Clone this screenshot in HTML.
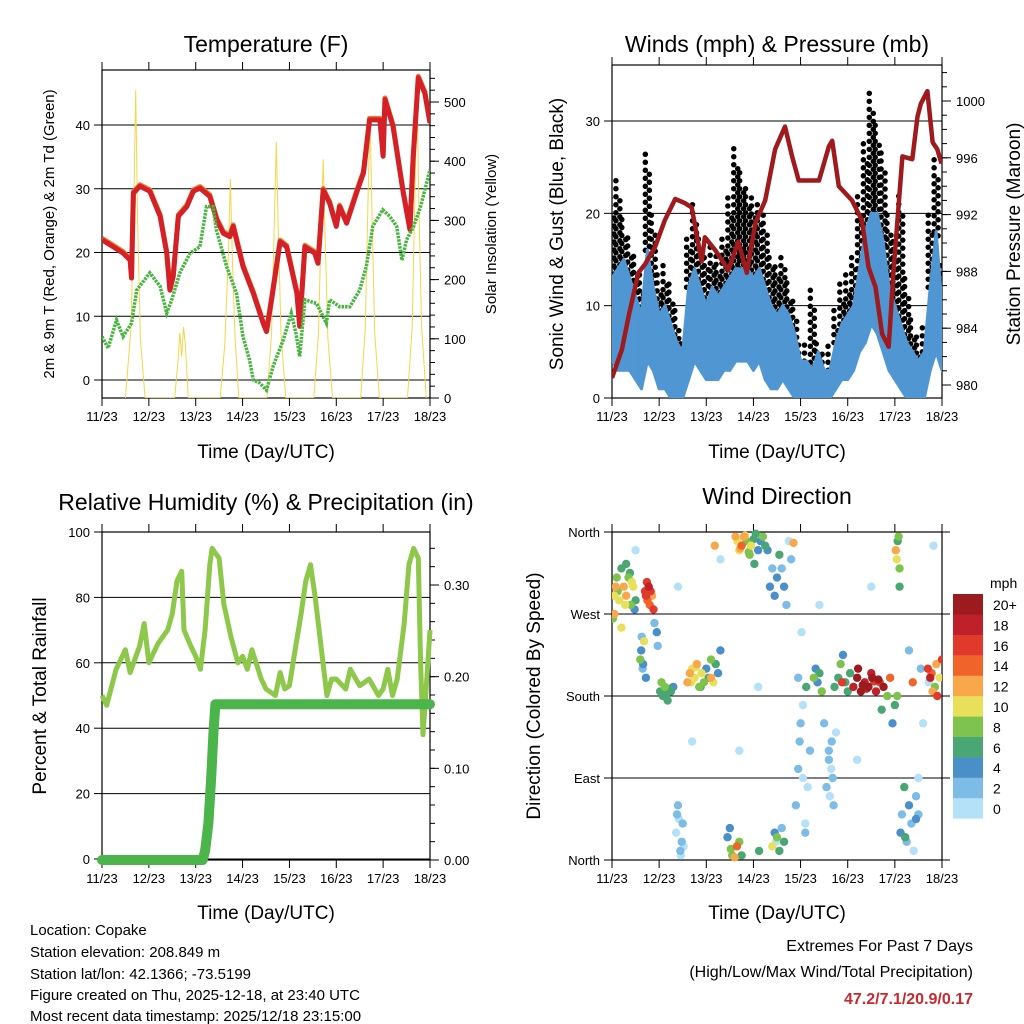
<!DOCTYPE html>
<html><head><meta charset="utf-8">
<style>
html,body{margin:0;padding:0;background:#fff;}
svg{display:block;font-family:"Liberation Sans",Arial,sans-serif;}
</style></head>
<body>
<svg id="c" width="1024" height="1024" viewBox="0 0 1024 1024" xmlns="http://www.w3.org/2000/svg">
<g id="texts">
<text x="266" y="52" font-size="23" text-anchor="middle">Temperature (F)</text>
<text x="777" y="52" font-size="23" text-anchor="middle">Winds (mph) &amp; Pressure (mb)</text>
<text x="266" y="510" font-size="23" text-anchor="middle">Relative Humidity (%) &amp; Precipitation (in)</text>
<text x="777" y="504" font-size="23" text-anchor="middle">Wind Direction</text>
<text x="266" y="458" font-size="19" text-anchor="middle">Time (Day/UTC)</text>
<text x="777" y="458" font-size="19" text-anchor="middle">Time (Day/UTC)</text>
<text x="266" y="919" font-size="19" text-anchor="middle">Time (Day/UTC)</text>
<text x="777" y="919" font-size="19" text-anchor="middle">Time (Day/UTC)</text>
<text transform="translate(54,234) rotate(-90)" font-size="15" text-anchor="middle">2m &amp; 9m T (Red, Orange) &amp; 2m Td (Green)</text>
<text transform="translate(496,234) rotate(-90)" font-size="15" text-anchor="middle">Solar Insolation (Yellow)</text>
<text transform="translate(563,234) rotate(-90)" font-size="19" text-anchor="middle">Sonic Wind &amp; Gust (Blue, Black)</text>
<text transform="translate(1020,234) rotate(-90)" font-size="19" text-anchor="middle">Station Pressure (Maroon)</text>
<text transform="translate(46,696) rotate(-90)" font-size="19" text-anchor="middle">Percent &amp; Total Rainfall</text>
<text transform="translate(540,696) rotate(-90)" font-size="19" text-anchor="middle">Direction (Colored By Speed)</text>
<g font-size="15">
<text x="30" y="935">Location: Copake</text>
<text x="30" y="957">Station elevation: 208.849 m</text>
<text x="30" y="979">Station lat/lon: 42.1366; -73.5199</text>
<text x="30" y="1000">Figure created on Thu, 2025-12-18, at 23:40 UTC</text>
<text x="30" y="1021">Most recent data timestamp: 2025/12/18 23:15:00</text>
</g>
<g font-size="16" text-anchor="end">
<text x="973" y="951">Extremes For Past 7 Days</text>
<text x="973" y="977">(High/Low/Max Wind/Total Precipitation)</text>
<text x="973" y="1004" font-weight="bold" fill="#c8282e">47.2/7.1/20.9/0.17</text>
</g>
</g>
</svg>
<script>
// ---------- DATA ----------
const dayLabels = ["11/23","12/23","13/23","14/23","15/23","16/23","17/23","18/23"];
const tempDays = [0,0.24,0.45,0.6,0.63,0.67,0.81,1.02,1.24,1.38,1.45,1.52,1.63,1.81,1.95,2.09,2.3,2.45,2.59,2.73,2.8,2.87,3.01,3.23,3.44,3.51,3.62,3.8,3.94,4.16,4.22,4.33,4.54,4.61,4.72,4.86,5.0,5.07,5.22,5.43,5.58,5.71,5.93,6.0,6.04,6.21,6.43,6.57,6.64,6.75,6.89,7.0];
const tempRed  = [22.0,20.9,19.9,18.8,16,29.3,30.4,29.6,25.7,19.9,14.1,16.2,25.7,27.2,29.6,30.1,28.8,25.1,23.0,22.5,24.1,22,17.8,13.6,8.9,7.6,12.6,21.7,20.9,13.6,8.4,20.9,19.9,18.3,29.8,27.7,24.1,27.2,24.6,29.3,32.5,40.8,40.8,35.1,44,39.8,29.3,23.6,34.6,47.4,45,40.3];
const dewDays = [0,0.13,0.31,0.45,0.63,0.74,1.02,1.24,1.38,1.49,1.66,1.88,2.09,2.23,2.37,2.44,2.66,2.87,3.01,3.15,3.23,3.37,3.51,3.65,3.87,4.04,4.14,4.22,4.33,4.58,4.79,4.86,5.07,5.29,5.50,5.64,5.78,5.99,6.14,6.29,6.4,6.5,6.65,6.8,7.0];
const dewGreen = [6.8,5,9.4,6.8,8.9,14.1,16.8,14.7,10.5,12.6,16.8,19.9,20.9,27.2,27.2,23.6,17.8,13.6,6.8,3.1,0,-0.5,-1.6,2.1,6.3,10.5,7.3,3.7,12.6,12.0,8.9,12.6,11.5,11.5,14.1,17.8,24.1,26.7,25.7,24.1,18.8,22,24.1,27.2,33.0];
const solarDays = [0.5,0.62,0.68,0.72,0.76,0.82,0.92, 1.55,1.62,1.66,1.7,1.74,1.78,1.84, 2.52,2.62,2.7,2.74,2.78,2.84,2.92, 3.52,3.62,3.68,3.72,3.76,3.82,3.92, 4.52,4.62,4.68,4.72,4.76,4.82,4.92, 5.52,5.62,5.68,5.72,5.76,5.82,5.92, 6.52,6.62,6.68,6.72,6.76,6.82,6.92];
const solarVals = [0,120,330,520,300,100,0, 0,60,110,70,120,90,0, 0,90,250,370,240,100,0, 0,110,300,433,290,110,0, 0,110,300,403,280,100,0, 0,120,340,475,320,110,0, 0,120,350,540,330,120,0];
const windDays = Array.from({length:57},(_,i)=>i*0.125);
const windHi = [13,14,15,13,11,9,16,12,9,10,8,6,5,12,14,12,10,12,11,12,13,14,14,14,13,14,12,10,9,10,9,7,4,4,3,5,3,3,6,8,9,10,14,18,20,20,17,12,10,8,6,5,4,5,12,18,10];
const windLo = [4,3,3,3,2,1,4,3,1,1,0,0,0,2,4,3,2,2,2,3,3,4,4,4,3,4,2,1,1,2,1,0,0,0,0,0,0,0,1,2,2,3,5,6,8,7,5,3,2,1,0,0,0,0,3,5,3];
const gustHi = [22,24,20,18,16,14,27,20,14,15,13,10,6,18,21,18,16,17,16,18,22,27,25,23,22,21,20,16,15,16,13,11,6,6,12,6,5,6,10,13,14,16,22,28,33,30,27,20,17,22,13,9,7,8,20,26,15];
const presDays = [0,0.21,0.35,0.56,0.7,0.91,1.12,1.34,1.55,1.69,1.9,1.97,2.19,2.47,2.68,2.86,3.04,3.25,3.46,3.67,3.82,3.96,4.18,4.39,4.6,4.67,4.81,5.09,5.3,5.44,5.59,5.73,5.87,5.97,6.16,6.37,6.48,6.55,6.69,6.8,6.9,6.99];
const presVals = [980.5,982.5,984.8,987.9,988.5,989.7,991.6,993.1,992.8,992.5,988.7,990.4,989.5,988.1,990.1,987.9,991.4,993.0,996.6,998.2,996.1,994.4,994.4,994.4,996.8,997.2,994.0,993.0,991.6,988.3,986.9,983.6,982.7,987.9,996.1,995.9,998.9,999.8,1000.7,997.1,996.6,995.6];
const rhDays = [0,0.1,0.3,0.5,0.6,0.8,0.9,1.0,1.2,1.4,1.5,1.6,1.7,1.75,1.9,2.0,2.1,2.2,2.3,2.35,2.5,2.6,2.75,2.9,3.0,3.1,3.2,3.4,3.5,3.7,3.8,3.9,4.0,4.1,4.25,4.35,4.45,4.55,4.7,4.8,4.9,5.0,5.2,5.3,5.5,5.7,5.9,6.0,6.1,6.2,6.3,6.45,6.55,6.65,6.75,6.8,6.85,6.9,7.0];
const rhVals = [50,47,58,64,57,65,72,60,66,70,75,85,88,70,65,62,58,70,90,95,92,78,68,60,62,58,64,55,52,50,57,52,53,62,75,85,90,80,62,50,55,55,52,58,53,55,50,52,58,50,55,72,90,95,92,60,38,48,70];
const precipDays = [0,2.15,2.2,2.27,2.33,2.38,2.42,7.0];
const precipVals = [0,0,0.01,0.04,0.09,0.14,0.17,0.17];
const dirDays = [0.02,0.05,0.08,0.1,0.15,0.2,0.25,0.3,0.35,0.4,0.45,0.5,0.3,0.42,0.48,0.2,0.12,0.38,0.05,0.28,
 0.7,0.72,0.75,0.78,0.8,0.85,0.88,0.74,0.82,0.62,0.65,0.68,0.72,0.95,0.97,0.6,0.63,0.66,0.9,
 1.02,1.08,1.12,1.18,1.25,1.3,1.05,1.15,1.22,1.36,1.4,1.45,1.5,1.42,1.48,1.52,1.38,1.46,
 1.6,1.65,1.7,1.75,1.8,1.85,1.9,1.95,2.0,2.05,2.1,2.15,2.2,2.25,2.3,2.1,1.68,1.78,1.88,2.18,
 2.62,2.66,2.7,2.75,2.8,2.85,2.9,2.95,3.0,3.05,3.1,3.15,3.2,3.25,3.3,3.35,3.4,3.45,3.5,3.55,3.6,3.65,3.7,3.75,3.8,3.85,2.72,2.82,2.92,3.02,3.12,
 2.45,2.5,2.55,2.6,2.65,2.7,2.75,3.4,3.45,3.5,3.55,3.6,3.65,2.52,3.48,
 3.9,3.95,4.0,4.05,4.1,4.15,4.2,3.95,4.02,4.1,3.98,4.05,4.12,
 4.28,4.32,4.36,4.4,4.45,4.5,4.55,4.6,4.65,4.7,4.75,4.6,4.68,4.62,4.66,4.72,
 4.8,4.85,4.9,4.95,5.0,5.05,4.88,
 5.12,5.2,5.28,5.36,5.44,5.52,5.6,5.68,5.76,5.84,5.9,5.22,5.5,5.65,5.32,5.4,5.56,5.72,
 5.95,6.0,6.05,6.1,6.02,6.06,6.1,6.04,6.08,6.12,
 6.15,6.2,6.25,6.3,6.35,6.4,6.45,6.5,6.55,6.3,6.45,6.22,6.38,
 6.7,6.75,6.8,6.85,6.9,6.95,7.0,6.78,6.88,6.72,6.82,
 0.5,1.4,2.3,3.1,4.4,5.5,6.6,1.7,2.7,5.2,6.5,6.7];
const dirVals = [265,290,300,310,285,320,300,290,310,280,300,285,325,305,275,255,295,315,270,280,
 295,290,285,300,280,290,275,305,295,230,210,240,200,250,235,220,245,215,260,
 185,180,190,175,185,190,195,182,188,30,60,10,40,45,20,15,50,5,
 195,205,210,200,215,190,205,195,210,200,220,195,215,205,230,200,195,212,190,
 345,355,350,340,345,355,350,338,345,352,358,340,350,355,345,340,300,320,290,310,335,320,300,280,350,330,348,342,356,335,325,
 10,25,35,5,3,15,20,5,15,30,25,10,35,20,12,
 20,60,100,150,170,30,80,120,200,250,40,130,90,
 190,200,210,195,205,185,150,80,120,100,60,140,110,90,70,130,
 190,200,215,225,195,185,205,
 195,190,200,185,195,190,200,185,195,190,180,200,210,205,198,192,188,196,
 165,150,170,180,320,340,350,300,330,355,
 30,50,80,20,60,40,10,70,50,210,230,45,25,
 195,210,200,185,190,180,200,220,205,215,195,
 345,340,300,330,190,280,300,150,130,120,110,90];
const dirSpeed = [9,11,12,8,10,7,13,12,9,8,10,6,7,11,5,10,9,6,12,10,
 16,17,14,18,15,13,17,16,17,4,3,10,5,4,3,9,2,4,3,
 7,6,8,7,6,4,8,7,6,1,2,3,2,1,2,1,2,1,
 12,13,11,10,12,9,10,8,4,6,9,11,7,5,4,12,11,10,7,
 12,13,11,10,14,12,9,8,11,7,6,5,4,8,6,5,4,3,5,4,6,2,4,3,1,2,12,13,10,9,7,
 6,4,5,8,12,15,9,7,10,5,8,6,3,7,9,
 1,2,2,3,1,2,1,2,3,1,1,2,1,
 7,8,5,4,6,8,3,2,2,1,2,1,2,2,1,2,
 6,7,8,5,7,6,7,
 16,19,21,20,18,22,20,19,17,21,8,15,20,18,20,21,19,17,
 6,4,7,8,9,12,7,6,10,8,
 5,3,6,2,4,3,1,2,3,2,3,4,6,
 15,17,18,13,9,16,10,16,14,12,
 1,1,1,1,1,1,1,1,1,1,1,1,1];
const speedColors = ["#b4e1f7","#7cbce6","#4a8fc7","#4aa672","#7dc34e","#e8e05a","#f8a84a","#f0642a","#e03a2c","#c0202a","#9b1b1e"];
const speedLabels = ["0","2","4","6","8","10","12","14","16","18","20+"];

// ---------- DRAWING ----------
const NS="http://www.w3.org/2000/svg";
const svg=document.getElementById('c');
function el(tag,attrs,parent){const e=document.createElementNS(NS,tag);for(const k in attrs)e.setAttribute(k,attrs[k]);(parent||svg).appendChild(e);return e;}
function lin(d0,d1,r0,r1){return v=>r0+(v-d0)*(r1-r0)/(d1-d0);}

function frame(name,x0,x1,y0,y1,xs){
  const g=el('g',{});
  
  
  el('rect',{x:x0,y:y0,width:x1-x0,height:y1-y0,fill:'none',stroke:'#000','stroke-width':1.2},g);
  dayLabels.forEach((lb,i)=>{
    const x=xs(i);
    el('line',{x1:x,x2:x,y1:y1,y2:y1+8,stroke:'#000'},g);
    el('line',{x1:x,x2:x,y1:y0,y2:y0-8,stroke:'#000'},g);
    const t=el('text',{x:x,y:y1+23,'font-size':13,'text-anchor':'middle'},g);
    t.textContent=lb;
    
    
  });
  return g;
}
function leftAxis(g,ticks,ys,x0,x1,labels,grid){
  ticks.forEach((v,i)=>{
    const y=ys(v);
    el('line',{x1:x0-8,x2:x0,y1:y,y2:y,stroke:'#000'},g);
    if(grid) el('line',{x1:x0,x2:x1,y1:y,y2:y,stroke:'#000','stroke-width':1},g);
    const t=el('text',{x:x0-12,y:y+5,'font-size':13,'text-anchor':'end'},g);
    t.textContent=labels?labels[i]:v;
  });
}
function rightAxis(g,ticks,ys,x1,labels,minor){
  minor.forEach(v=>{const y=ys(v);el('line',{x1:x1,x2:x1+5,y1:y,y2:y,stroke:'#000'},g);});
  ticks.forEach((v,i)=>{
    const y=ys(v);
    el('line',{x1:x1,x2:x1+9,y1:y,y2:y,stroke:'#000'},g);
    const t=el('text',{x:x1+14,y:y+5,'font-size':13},g);
    t.textContent=labels?labels[i]:v;
  });
}
function pathOf(xa,ya,xs,ys){return xa.map((d,i)=>(i?'L':'M')+xs(d).toFixed(1)+','+ys(ya[i]).toFixed(1)).join('');}

// Panel 1 temperature
(function(){
  const x0=102,x1=430,y0=70,y1=398;
  const xs=lin(0,7,x0,x1), ys=lin(0,40,380,125), ss=lin(0,500,398,102);
  const g=frame('temperature',x0,x1,y0,y1,xs);
  leftAxis(g,[0,10,20,30,40],ys,x0,x1,null,true);
  const mn=[];for(let v=20;v<=540;v+=20)mn.push(v);
  rightAxis(g,[0,100,200,300,400,500],ss,x1,null,mn.filter(v=>ss(v)>y0));
  const cp=el('clipPath',{id:'cp1'});el('rect',{x:x0,y:y0,width:x1-x0,height:y1-y0},cp);
  const s=el('path',{d:pathOf(solarDays,solarVals,xs,ss),fill:'none',stroke:'#f7d54a','stroke-width':1,'clip-path':'url(#cp1)'});
  
  const o=el('path',{d:pathOf(tempDays,tempRed,xs,v=>ys(v)-1.5),fill:'none',stroke:'#f07a2a','stroke-width':5,'stroke-linejoin':'round','clip-path':'url(#cp1)'});
  
  const r=el('path',{d:pathOf(tempDays,tempRed,xs,ys),fill:'none',stroke:'#d42027','stroke-width':5,'stroke-linejoin':'round','clip-path':'url(#cp1)'});
  
  const gr=el('path',{d:pathOf(dewDays,dewGreen,xs,ys),fill:'none',stroke:'#4bb443','stroke-width':3.5,'stroke-dasharray':'2.5 1','clip-path':'url(#cp1)'});
  
})();

// Panel 2 winds
(function(){
  const x0=612,x1=942,y0=65,y1=398;
  const xs=lin(0,7,x0,x1), ys=lin(0,30,398,121), ps=lin(980,1000,385,101);
  const g=frame('winds',x0,x1,y0,y1,xs);
  leftAxis(g,[0,10,20,30],ys,x0,x1,null,true);
  const mn=[];for(let v=980;v<=1002;v++)mn.push(v);
  rightAxis(g,[980,984,988,992,996,1000],ps,x1,null,mn);
  const cp=el('clipPath',{id:'cp2'});el('rect',{x:x0,y:y0,width:x1-x0,height:y1-y0},cp);
  const gg=el('g',{'clip-path':'url(#cp2)'});
  windDays.forEach((d,i)=>{
    const x=xs(d);
    [-2,2].forEach((dx,k)=>{
      const b=el('line',{x1:x+dx,x2:x+dx,y1:ys(windHi[i])+4*k,y2:ys(gustHi[i]-(k?2:0)),stroke:'#000','stroke-width':5.5,'stroke-linecap':'round','stroke-dasharray':'0 8'},gg);
      
      
    });
  });
  windDays.forEach((d,i)=>{
    if(i<windDays.length-1){
      const x=xs(d),xn=xs(windDays[i+1]);
      const p=el('polygon',{points:`${x},${ys(windLo[i])} ${x},${ys(windHi[i])} ${xn},${ys(windHi[i+1])} ${xn},${ys(windLo[i+1])}`,fill:'#4f96d2',stroke:'#4f96d2','stroke-width':3,'stroke-linejoin':'round'},gg);
      
      
    }
  });
  const pr=el('path',{d:pathOf(presDays,presVals,xs,ps),fill:'none',stroke:'#9e1a1d','stroke-width':4.5,'stroke-linejoin':'round'},gg);
  
})();

// Panel 3 RH
(function(){
  const x0=102,x1=430,y0=532,y1=860;
  const xs=lin(0,7,x0,x1), ys=lin(0,100,859,532), rs=lin(0,0.3,860,585);
  const g=frame('humidity',x0,x1,y0,y1,xs);
  leftAxis(g,[0,20,40,60,80,100],ys,x0,x1,null,true);
  const mn=[];for(let v=0;v<=0.36;v+=0.02)mn.push(v);
  rightAxis(g,[0,0.1,0.2,0.3],rs,x1,["0.00","0.10","0.20","0.30"],mn.filter(v=>rs(v)>y0));
  const rh=el('path',{d:pathOf(rhDays,rhVals,xs,ys),fill:'none',stroke:'#8dc84b','stroke-width':5,'stroke-linejoin':'round'});
  
  const pc=el('path',{d:pathOf(precipDays,precipVals,xs,rs),fill:'none',stroke:'#4bb44a','stroke-width':10,'stroke-linecap':'round','stroke-linejoin':'round'});
  
})();

// Panel 4 wind direction
(function(){
  const x0=612,x1=942,y0=532,y1=860;
  const xs=lin(0,7,x0,x1), ds=lin(0,360,860,532);
  const g=frame('direction',x0,x1,y0,y1,xs);
  leftAxis(g,[0,90,180,270,360],ds,x0,x1,["North","East","South","West","North"],true);
  [0,90,180,270,360].forEach(v=>el('line',{x1:x1,x2:x1+8,y1:ds(v),y2:ds(v),stroke:'#000'},g));
  const cp=el('clipPath',{id:'cp4'});el('rect',{x:x0,y:y0-4,width:x1-x0,height:y1-y0+8},cp);
  const gg=el('g',{'clip-path':'url(#cp4)'});
  const order=dirSpeed.map((s,i)=>i).sort((a,b)=>dirSpeed[a]-dirSpeed[b]);
  order.forEach(i=>{
    const ci=Math.min(10,Math.floor(dirSpeed[i]/2));
    const c=el('circle',{cx:xs(dirDays[i]),cy:ds(dirVals[i]),r:4.2,fill:speedColors[ci]},gg);
    
    
  });
  const cb=el('g',{});
  
  
  const t=el('text',{x:990,y:588,'font-size':14},cb);t.textContent='mph';
  speedColors.forEach((c,i)=>{
    const y=594+(10-i)*20.4;
    el('rect',{x:953,y:y,width:30,height:20.6,fill:c},cb);
    const l=el('text',{x:993,y:y+16,'font-size':14},cb);l.textContent=speedLabels[i];
  });
})();
</script>
</body></html>
